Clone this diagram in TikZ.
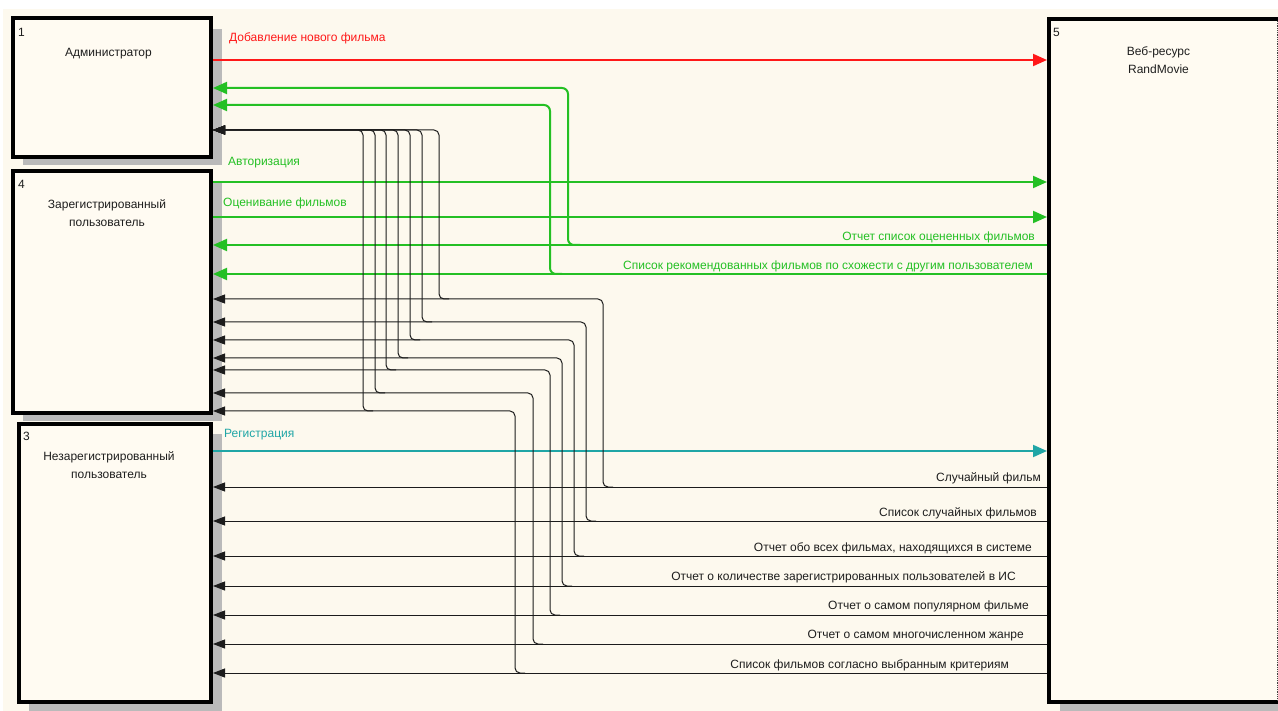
\documentclass[tikz,border=0pt]{standalone}
\usepackage{fontspec}
\setmainfont{Liberation Sans}
\usetikzlibrary{arrows.meta,calc}

\definecolor{paper}{RGB}{253,249,238}
\definecolor{boxfill}{RGB}{255,251,242}
\definecolor{shade}{RGB}{186,186,186}
\definecolor{flowred}{RGB}{255,24,24}
\definecolor{flowgreen}{RGB}{36,192,36}
\definecolor{flowteal}{RGB}{32,166,166}
\definecolor{flowblack}{RGB}{28,28,28}
\definecolor{inktext}{RGB}{30,30,30}

\tikzset{
  actor/.style={draw=black, line width=4pt, fill=boxfill, anchor=north west, inner sep=0pt},
  boxshadow/.style={fill=shade},
  boxno/.style={anchor=base west, inner sep=0pt, text=inktext, font=\fontsize{12}{14}\selectfont},
  boxname/.style={anchor=north, inner sep=0pt, align=center, text=inktext, font=\fontsize{12}{18}\selectfont},
  lbl/.style={inner sep=0pt, font=\fontsize{12}{14}\selectfont},
  redflow/.style={draw=flowred, line width=2pt, -{Triangle[length=14pt,width=12pt]}},
  greenflow/.style={draw=flowgreen, line width=2pt, rounded corners=6pt, -{Triangle[length=14pt,width=12pt]}},
  tealflow/.style={draw=flowteal, line width=2pt, -{Triangle[length=14pt,width=12pt]}},
  blackflow/.style={draw=flowblack, line width=1pt, rounded corners=5pt, -{Triangle[length=12pt,width=9pt]}},
}

\begin{document}
\begin{tikzpicture}[x=1pt, y=-1pt]
  \useasboundingbox (0,0) rectangle (1278,711);
  \fill[white] (0,0) rectangle (1278,711);
  \fill[paper] (3,9) rectangle (1278,711);

  % drop shadows of the four boxes
  \fill[boxshadow] (23,29) rectangle (222,165);
  \fill[boxshadow] (23,182) rectangle (222,421);
  \fill[boxshadow] (29,434) rectangle (222,711);
  \fill[boxshadow] (1060,30) rectangle (1278,711);

  % boxes
  \node[actor, minimum width=198pt, minimum height=139pt] (b1) at (11,16) {};
  \node[actor, minimum width=198pt, minimum height=242pt] (b4) at (11,169) {};
  \node[actor, minimum width=192pt, minimum height=278pt] (b3) at (17,422) {};
  \node[actor, minimum width=231pt, minimum height=683pt] (b5) at (1047,17) {};
  \draw[black!75, line width=0.8pt, densely dotted] ($(b5.north east)+(-5,4)$) -- ($(b5.south east)+(-5,-4)$);

  % box numbers and names
  \node[boxno] (n1) at ($(b1.north west)+(7,21)$) {1};
  \node[boxno] (n4) at ($(b4.north west)+(7,20)$) {4};
  \node[boxno] (n3) at ($(b3.north west)+(6,18)$) {3};
  \node[boxno] (n5) at ($(b5.north west)+(6,20)$) {5};
  \node[boxname, anchor=base] (t1) at ($(b1.north)+(-3.5,41)$) {Администратор};
  \node[boxname] (t4) at ($(b4.north)+(-5,30)$) {Зарегистрированный\\пользователь};
  \node[boxname] (t3) at ($(b3.north)+(-6,29)$) {Незарегистрированный\\пользователь};
  \node[boxname] (t5) at ($(b5.north)+(-6,30)$) {Веб-ресурс\\RandMovie};

  % inputs of the web resource
  \draw[redflow] (b1.east |- 0,60) -- (b5.west |- 0,60);
  \draw[greenflow] (b4.east |- 0,182) -- (b5.west |- 0,182);
  \draw[greenflow] (b4.east |- 0,217) -- (b5.west |- 0,217);
  \draw[tealflow] (b3.east |- 0,451) -- (b5.west |- 0,451);

  % rated / recommended lists, shared with the administrator
  \coordinate (g1) at (580,245);
  \coordinate (g2) at (562,274);
  \draw[greenflow] (b5.west |- 0,245) -- (b4.east |- 0,245);
  \draw[greenflow] (g1) -- (568,245) -- (568,88) -- (b1.east |- 0,88);
  \draw[greenflow] (b5.west |- 0,274) -- (b4.east |- 0,274);
  \draw[greenflow] (g2) -- (550,274) -- (550,105) -- (b1.east |- 0,105);

  % reports for all three kinds of users
  \foreach \yc/\xa/\yb/\xb [count=\i] in
    {487/603/299/439, 521/586/322/422, 556/574/340/410, 586/562/358/398,
     615/550/370/386, 644/533/393/375, 673/515/411/363} {
    \draw[blackflow] (b5.west |- 0,\yc) -- (b3.east |- 0,\yc);
    \coordinate (j\i) at (\xa+10,\yc);
    \draw[blackflow] (j\i) -- (\xa,\yc) -- (\xa,\yb) -- (b4.east |- 0,\yb);
    \coordinate (k\i) at (\xb+10,\yb);
    \draw[blackflow] (k\i) -- (\xb,\yb) -- (\xb,130) -- (b1.east |- 0,130);
  }

  % flow labels
  \node[lbl, anchor=base west, text=flowred] (l1) at (229,42) {Добавление нового фильма};
  \node[lbl, anchor=base west, text=flowgreen] (l2) at (228,166) {Авторизация};
  \node[lbl, anchor=base west, text=flowgreen] (l3) at (223,207) {Оценивание фильмов};
  \node[lbl, anchor=base east, text=flowgreen] (l4) at (1035,241) {Отчет список оцененных фильмов};
  \node[lbl, anchor=base east, text=flowgreen] (l5) at (1033,270) {Список рекомендованных фильмов по схожести с другим пользователем};
  \node[lbl, anchor=base west, text=flowteal] (l6) at (224,438) {Регистрация};
  \node[lbl, anchor=base east, text=inktext] (l7) at (1041,481) {Случайный фильм};
  \node[lbl, anchor=base east, text=inktext] (l8) at (1037,516) {Список случайных фильмов};
  \node[lbl, anchor=base east, text=inktext] (l9) at (1032,551) {Отчет обо всех фильмах, находящихся в системе};
  \node[lbl, anchor=base east, text=inktext] (l10) at (1016,580) {Отчет о количестве зарегистрированных пользователей в ИС};
  \node[lbl, anchor=base east, text=inktext] (l11) at (1029,609) {Отчет о самом популярном фильме};
  \node[lbl, anchor=base east, text=inktext] (l12) at (1024,638) {Отчет о самом многочисленном жанре};
  \node[lbl, anchor=base east, text=inktext] (l13) at (1009,668) {Список фильмов согласно выбранным критериям};
\end{tikzpicture}
\end{document}
